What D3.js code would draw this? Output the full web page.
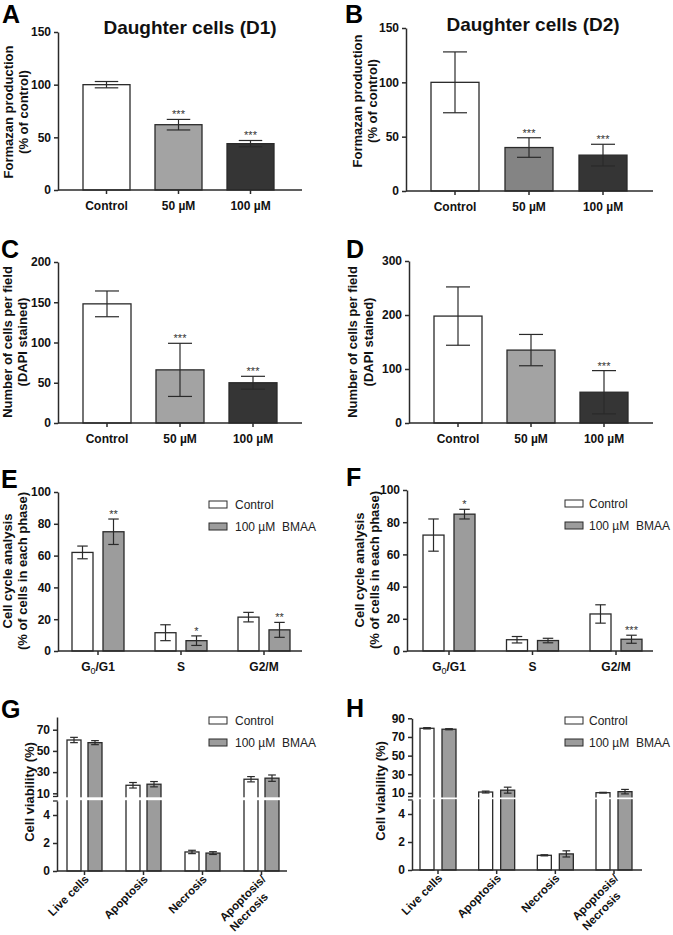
<!DOCTYPE html>
<html><head><meta charset="utf-8">
<script src="https://cdn.jsdelivr.net/npm/d3@7"></script>
<style>
body{margin:0;background:#fff;}
svg{display:block;font-family:Arial,"Liberation Sans",sans-serif;}
</style></head><body>
<svg id="fig" width="673" height="935"></svg>
<script>
// ---------------- DATA ----------------
const doseCategories = ["Control", "50 µM", "100 µM"];

const formazanD1 = [100, 62, 44];
const formazanD1Err = [3, 5, 3];
const formazanD1Sig = ["", "***", "***"];

const formazanD2 = [100, 40, 33];
const formazanD2Err = [28, 9, 10];
const formazanD2Sig = ["", "***", "***"];

const dapiD1 = [148, 66, 50];
const dapiD1Err = [16, 33, 8];
const dapiD1Sig = ["", "***", "***"];

const dapiD2 = [198, 135, 57];
const dapiD2Err = [54, 29, 40];
const dapiD2Sig = ["", "", "***"];

const phases = ["G0/G1", "S", "G2/M"];
const seriesNames = ["Control", "100 µM  BMAA"];

const cycleD1Control = [62, 11.5, 21.3];
const cycleD1ControlErr = [4, 5, 3];
const cycleD1Bmaa = [75, 6.5, 13.3];
const cycleD1BmaaErr = [8, 3, 4.7];
const cycleD1Sig = ["**", "*", "**"];

const cycleD2Control = [72, 7, 23];
const cycleD2ControlErr = [10, 2, 5.7];
const cycleD2Bmaa = [85, 6.5, 7.3];
const cycleD2BmaaErr = [3, 1.4, 2.5];
const cycleD2Sig = ["*", "", "***"];

const viabilityCats = ["Live cells", "Apoptosis", "Necrosis", "Apoptosis/\nNecrosis"];

const viabD1Control = [60.3, 17.6, 1.36, 23.3];
const viabD1ControlErr = [2.5, 2.6, 0.12, 2.5];
const viabD1Bmaa = [57.8, 18.6, 1.28, 24.3];
const viabD1BmaaErr = [1.9, 2.5, 0.1, 3];

const viabD2Control = [79.3, 11, 1.05, 10.3];
const viabD2ControlErr = [0.7, 1, 0.04, 0.4];
const viabD2Bmaa = [78.3, 13, 1.15, 11.4];
const viabD2BmaaErr = [0.6, 3.2, 0.22, 2.4];

const ticksFormazan = [0, 50, 100, 150];
const ticksDapiD1 = [0, 50, 100, 150, 200];
const ticksDapiD2 = [0, 100, 200, 300];
const ticksCycle = [0, 20, 40, 60, 80, 100];
const ticksViabD1Upper = [10, 30, 50, 70];
const ticksViabD2Upper = [10, 30, 50, 70, 90];
const ticksViabLower = [0, 2, 4];

// ---------------- DRAWING ----------------
const svg = d3.select("#fig");
const INK = "#2a2a2a";
const FONT = "Arial, 'Liberation Sans', sans-serif";
const fmt = d3.format("d");

function band(domain, left, right, bw) {
  const n = domain.length;
  const step = (right - left - bw) / (n - 1);
  return d3.scaleBand().domain(domain).range([left, right])
    .paddingInner(1 - bw / step).paddingOuter(0);
}

function styleAxis(g) {
  g.attr("font-family", FONT).attr("font-size", 12);
  g.selectAll("path,line").attr("stroke", INK).attr("stroke-width", 1.5);
  g.selectAll("text").attr("fill", "#111").attr("font-weight", "bold");
}

function letter(t, x, y) {
  svg.append("text").attr("x", x).attr("y", y).text(t)
    .attr("font-size", 25).attr("font-weight", "bold").attr("fill", "#000");
}

function title(t, x, y) {
  svg.append("text").attr("x", x).attr("y", y).attr("text-anchor", "middle")
    .attr("font-size", 19).attr("font-weight", "bold").attr("fill", "#111").text(t);
}

function yLabel(lines, xs, cy, size) {
  lines.forEach((l, i) => {
    svg.append("text").attr("transform", `translate(${xs[i]},${cy}) rotate(-90)`)
      .attr("text-anchor", "middle").attr("font-size", size || 13).attr("font-weight", "bold")
      .attr("fill", "#111").text(l);
  });
}

function errBar(g, cx, y, v, e, capW) {
  g.append("line").attr("x1", cx).attr("x2", cx).attr("y1", y(v - e)).attr("y2", y(v + e))
    .attr("stroke", INK).attr("stroke-width", 1.2);
  [v - e, v + e].forEach(t => {
    g.append("line").attr("x1", cx - capW / 2).attr("x2", cx + capW / 2)
      .attr("y1", y(t)).attr("y2", y(t)).attr("stroke", INK).attr("stroke-width", 1.2);
  });
}

function stars(g, cx, yy, s) {
  if (!s) return;
  g.append("text").attr("x", cx).attr("y", yy).attr("text-anchor", "middle")
    .attr("font-size", 11).attr("fill", "#333").text(s);
}

function simplePanel(o) {
  const g = svg.append("g");
  const x = band(doseCategories, o.barL, o.barR, o.barW);
  const y = d3.scaleLinear().domain([0, o.ticks[o.ticks.length - 1]]).range([o.y0, o.y1]);
  g.selectAll("rect.bar").data(o.values).join("rect").attr("class", "bar")
    .attr("x", (d, i) => x(doseCategories[i])).attr("width", x.bandwidth())
    .attr("y", d => y(d)).attr("height", d => y(0) - y(d))
    .attr("fill", (d, i) => o.fills[i]).attr("stroke", INK).attr("stroke-width", 1.3);
  o.values.forEach((v, i) => {
    const cx = x(doseCategories[i]) + x.bandwidth() / 2;
    errBar(g, cx, y, v, o.errs[i], x.bandwidth() / 2);
    stars(g, cx, y(v + o.errs[i]) - 1, o.sig[i]);
  });
  g.append("g").attr("transform", `translate(${o.axisX},0)`)
    .call(d3.axisLeft(y).tickValues(o.ticks).tickFormat(fmt).tickSize(4).tickPadding(3).tickSizeOuter(0))
    .call(styleAxis);
  g.append("line").attr("x1", o.axisX).attr("x2", o.axisEnd).attr("y1", y(0)).attr("y2", y(0))
    .attr("stroke", INK).attr("stroke-width", 1.5);
  g.append("g").attr("transform", `translate(0,${y(0)})`)
    .call(d3.axisBottom(x).tickSize(4).tickPadding(7))
    .call(a => a.select(".domain").remove()).call(styleAxis);
}

function legend(x, y, textX, fills) {
  seriesNames.forEach((s, i) => {
    svg.append("rect").attr("x", x).attr("y", y + i * 22).attr("width", 18).attr("height", 7)
      .attr("fill", fills[i]).attr("stroke", INK).attr("stroke-width", 1);
    svg.append("text").attr("x", textX).attr("y", y + i * 22 + 8).attr("font-size", 12)
      .style("white-space", "pre").attr("fill", "#222").text(s);
  });
}

const GREY = "#9c9c9c";

function groupedPanel(o) {
  const g = svg.append("g");
  const x0 = band(phases, o.gL, o.gR, o.gW);
  const x1 = band(seriesNames, 0, o.gW, o.barW);
  const y = d3.scaleLinear().domain([0, 100]).range([o.y0, o.y1]);
  const series = [[o.c, o.ce], [o.b, o.be]];
  series.forEach(([vals, errs], si) => {
    g.selectAll(null).data(vals).join("rect")
      .attr("x", (d, i) => x0(phases[i]) + x1(seriesNames[si])).attr("width", x1.bandwidth())
      .attr("y", d => y(d)).attr("height", d => y(0) - y(d))
      .attr("fill", si ? GREY : "#fff").attr("stroke", INK).attr("stroke-width", 1.3);
    vals.forEach((v, i) => {
      const cx = x0(phases[i]) + x1(seriesNames[si]) + x1.bandwidth() / 2;
      errBar(g, cx, y, v, errs[i], x1.bandwidth() / 2);
      if (si === 1) stars(g, cx, y(v + errs[i]) - 1, o.sig[i]);
    });
  });
  g.append("g").attr("transform", `translate(${o.axisX},0)`)
    .call(d3.axisLeft(y).tickValues(ticksCycle).tickFormat(fmt).tickSize(4).tickPadding(3).tickSizeOuter(0))
    .call(styleAxis);
  g.append("line").attr("x1", o.axisX).attr("x2", o.axisEnd).attr("y1", y(0)).attr("y2", y(0))
    .attr("stroke", INK).attr("stroke-width", 1.5);
  const xa = g.append("g").attr("transform", `translate(0,${y(0)})`)
    .call(d3.axisBottom(x0).tickSize(4).tickPadding(7))
    .call(a => a.select(".domain").remove()).call(styleAxis);
  xa.selectAll(".tick text").each(function (d) {
    if (d === "G0/G1") {
      const t = d3.select(this).text(null);
      t.append("tspan").text("G");
      t.append("tspan").attr("dy", 3).attr("font-size", 9).attr("font-weight", "normal").text("0");
      t.append("tspan").attr("dy", -3).text("/G1");
    }
  });
  legend(o.legX, o.legY, o.legTX, ["#fff", GREY]);
}

function brokenPanel(o) {
  const g = svg.append("g");
  const x0 = band(viabilityCats, o.gL, o.gR, o.gW);
  const x1 = band(seriesNames, 0, o.gW, o.barW);
  const yLow = d3.scaleLinear().domain(o.lowDom).range(o.lowRange);
  const yUp = d3.scaleLinear().domain(o.upDom).range(o.upRange);
  const y = v => v <= o.lowDom[1] ? yLow(v) : yUp(Math.max(v, o.upDom[0]));
  const series = [[o.c, o.ce], [o.b, o.be]];
  series.forEach(([vals, errs], si) => {
    g.selectAll(null).data(vals).join("rect")
      .attr("x", (d, i) => x0(viabilityCats[i]) + x1(seriesNames[si])).attr("width", x1.bandwidth())
      .attr("y", d => y(d)).attr("height", d => yLow(0) - y(d))
      .attr("fill", si ? GREY : "#fff").attr("stroke", INK).attr("stroke-width", 1.3);
  });
  // white break gap
  g.append("rect").attr("x", o.axisX - 2).attr("width", o.axisEnd - o.axisX + 2)
    .attr("y", o.upRange[0] + 0.8).attr("height", o.lowRange[1] - o.upRange[0] - 1.6).attr("fill", "#fff");
  series.forEach(([vals, errs], si) => {
    vals.forEach((v, i) => {
      const cx = x0(viabilityCats[i]) + x1(seriesNames[si]) + x1.bandwidth() / 2;
      const sc = v <= o.lowDom[1] ? yLow : yUp;
      errBar(g, cx, sc, v, errs[i], x1.bandwidth() * 0.55);
    });
  });
  g.append("g").attr("transform", `translate(${o.axisX},0)`)
    .call(d3.axisLeft(yUp).tickValues(o.upTicks).tickFormat(fmt).tickSize(4).tickPadding(3).tickSizeOuter(0))
    .call(styleAxis);
  g.append("g").attr("transform", `translate(${o.axisX},0)`)
    .call(d3.axisLeft(yLow).tickValues(ticksViabLower).tickFormat(fmt).tickSize(4).tickPadding(3).tickSizeOuter(0))
    .call(styleAxis);
  [o.upRange[0], o.lowRange[1]].forEach(yy => {
    g.append("line").attr("x1", o.axisX - 4).attr("x2", o.axisX + 0.7).attr("y1", yy).attr("y2", yy)
      .attr("stroke", INK).attr("stroke-width", 1.3);
  });
  g.append("line").attr("x1", o.axisX).attr("x2", o.axisEnd).attr("y1", yLow(0)).attr("y2", yLow(0))
    .attr("stroke", INK).attr("stroke-width", 1.5);
  const xa = g.append("g").attr("transform", `translate(0,${yLow(0)})`)
    .call(d3.axisBottom(x0).tickSize(4).tickPadding(7))
    .call(a => a.select(".domain").remove()).call(styleAxis);
  xa.selectAll(".tick text").each(function (d) {
    const t = d3.select(this).text(null).attr("x", 0).attr("y", 0).attr("dy", null)
      .attr("font-size", 11.5).attr("text-anchor", "end").attr("transform", "translate(5,9) rotate(-45)");
    const lines = d.split("\n");
    const spans = lines.map((l, i) => t.append("tspan").attr("x", 0).attr("dy", i ? 14 : 0).text(l));
    if (lines.length > 1) {
      const w0 = spans[0].node().getComputedTextLength();
      const w1 = spans[1].node().getComputedTextLength();
      spans[1].attr("x", -(w0 - w1));
    }
  });
  legend(o.legX, o.legY, o.legTX, ["#fff", GREY]);
}

// ---- Panel A ----
letter("A", 2, 23);
title("Daughter cells (D1)", 190, 34);
simplePanel({ values: formazanD1, errs: formazanD1Err, sig: formazanD1Sig, ticks: ticksFormazan,
  fills: ["#fff", "#a3a3a3", "#353535"], barL: 83, barR: 274, barW: 47,
  y0: 190, y1: 32, axisX: 58, axisEnd: 302 });
yLabel(["Formazan production", "(% of control)"], [13, 28], 112);

// ---- Panel B ----
letter("B", 345, 23);
title("Daughter cells (D2)", 533, 31);
simplePanel({ values: formazanD2, errs: formazanD2Err, sig: formazanD2Sig, ticks: ticksFormazan,
  fills: ["#fff", "#848484", "#353535"], barL: 431, barR: 627, barW: 48,
  y0: 191, y1: 28, axisX: 406, axisEnd: 653 });
yLabel(["Formazan production", "(% of control)"], [362, 377], 101);

// ---- Panel C ----
letter("C", 1, 258);
simplePanel({ values: dapiD1, errs: dapiD1Err, sig: dapiD1Sig, ticks: ticksDapiD1,
  fills: ["#fff", "#a3a3a3", "#353535"], barL: 83, barR: 277, barW: 48,
  y0: 423, y1: 262, axisX: 58, axisEnd: 302 });
yLabel(["Number of cells per field", "(DAPI stained)"], [12, 27], 342);

// ---- Panel D ----
letter("D", 346, 258);
simplePanel({ values: dapiD2, errs: dapiD2Err, sig: dapiD2Sig, ticks: ticksDapiD2,
  fills: ["#fff", "#a3a3a3", "#353535"], barL: 434, barR: 628, barW: 48,
  y0: 423, y1: 261, axisX: 409, axisEnd: 653 });
yLabel(["Number of cells per field", "(DAPI stained)"], [357, 373], 342);

// ---- Panel E ----
letter("E", 1, 488);
groupedPanel({ c: cycleD1Control, ce: cycleD1ControlErr, b: cycleD1Bmaa, be: cycleD1BmaaErr, sig: cycleD1Sig,
  gL: 72, gR: 290, gW: 52, barW: 21, y0: 651, y1: 492, axisX: 58, axisEnd: 302,
  legX: 209, legY: 501, legTX: 235 });
yLabel(["Cell cycle analysis", "(% of cells in each phase)"], [12, 27], 571);

// ---- Panel F ----
letter("F", 346, 486);
groupedPanel({ c: cycleD2Control, ce: cycleD2ControlErr, b: cycleD2Bmaa, be: cycleD2BmaaErr, sig: cycleD2Sig,
  gL: 423, gR: 642, gW: 52, barW: 21, y0: 651, y1: 490, axisX: 407, axisEnd: 653,
  legX: 565, legY: 500, legTX: 589 });
yLabel(["Cell cycle analysis", "(% of cells in each phase)"], [364, 379], 570);

// ---- Panel G ----
letter("G", 1, 718);
brokenPanel({ c: viabD1Control, ce: viabD1ControlErr, b: viabD1Bmaa, be: viabD1BmaaErr,
  gL: 67, gR: 279, gW: 35, barW: 14,
  lowDom: [0, 5], lowRange: [871, 801], upDom: [7, 82], upRange: [796.5, 717], upTicks: ticksViabD1Upper,
  axisX: 57, axisEnd: 287, legX: 209, legY: 717, legTX: 235 });
yLabel(["Cell viability (%)"], [34], 792);

// ---- Panel H ----
letter("H", 346, 717);
brokenPanel({ c: viabD2Control, ce: viabD2ControlErr, b: viabD2Bmaa, be: viabD2BmaaErr,
  gL: 420, gR: 632, gW: 36, barW: 14,
  lowDom: [0, 5], lowRange: [870, 800], upDom: [6, 90], upRange: [796.7, 718.3], upTicks: ticksViabD2Upper,
  axisX: 412, axisEnd: 642, legX: 565, legY: 717, legTX: 589 });
yLabel(["Cell viability (%)"], [385], 791);
</script>
</body></html>
